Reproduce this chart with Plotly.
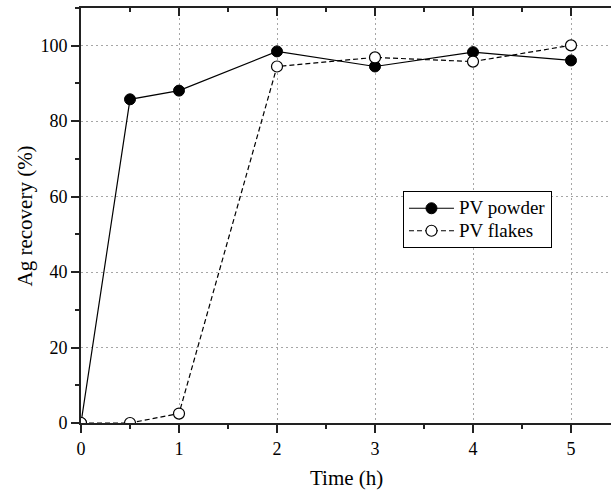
import plotly.graph_objects as go

time_h = [0, 0.5, 1, 2, 3, 4, 5]
pv_powder = [0, 85.8, 88.1, 98.5, 94.5, 98.3, 96.1]
pv_flakes = [0, 0, 2.5, 94.5, 96.9, 95.8, 100.1]
series_names = ["PV powder", "PV flakes"]
x_ticks = [0, 1, 2, 3, 4, 5]
y_ticks = [0, 20, 40, 60, 80, 100]
x_title = "Time (h)"
y_title = "Ag recovery (%)"

FONT = "Liberation Serif, Times New Roman, serif"
AX = "#222222"
GRID = "#a6a6a6"


def legend_label(name):
    return "<span style='font-size:19px'>" + name + "</span>"


fig = go.Figure()
fig.add_trace(go.Scatter(
    x=time_h, y=pv_powder, name=legend_label(series_names[0]), mode="lines+markers",
    line=dict(color="black", width=1.2),
    marker=dict(symbol="circle", size=11, color="black", line=dict(color="black", width=1)),
))
fig.add_trace(go.Scatter(
    x=time_h, y=pv_flakes, name=legend_label(series_names[1]), mode="lines+markers",
    line=dict(color="black", width=1.2, dash="5px,3px"),
    marker=dict(symbol="circle", size=11, color="white", line=dict(color="black", width=1.2)),
))

xr = [0, 530 / 98.0]
fig.update_layout(
    width=611, height=490,
    margin=dict(l=81, r=0, t=8, b=67, autoexpand=False),
    paper_bgcolor="white", plot_bgcolor="white",
    font=dict(family=FONT, color="black", size=18),
    showlegend=True,
    legend=dict(
        x=0.6075, y=0.559, xanchor="left", yanchor="top",
        bgcolor="white", bordercolor="black", borderwidth=1,
        font=dict(family=FONT, size=15, color="black"),
        itemwidth=45, tracegroupgap=0,
    ),
    xaxis=dict(
        range=xr, tickvals=x_ticks, ticktext=[str(v) for v in x_ticks],
        showline=True, linecolor=AX, linewidth=2, automargin=False,
        ticks="outside", ticklen=8, tickwidth=1.5, tickcolor=AX,
        minor=dict(dtick=0.5, tick0=0, ticks="outside", ticklen=4, tickwidth=1.5, tickcolor=AX, showgrid=False),
        showgrid=True, gridcolor=GRID, gridwidth=1, griddash="2px,3px",
        zeroline=False,
        tickfont=dict(family=FONT, size=18),
    ),
    xaxis2=dict(
        overlaying="x", matches="x", side="top", range=xr, automargin=False,
        tickvals=x_ticks, showticklabels=False,
        showline=True, linecolor=AX, linewidth=2,
        ticks="inside", ticklen=8, tickwidth=1.5, tickcolor=AX,
        minor=dict(dtick=0.5, tick0=0, ticks="inside", ticklen=4, tickwidth=1.5, tickcolor=AX, showgrid=False),
        showgrid=False, zeroline=False,
    ),
    yaxis=dict(
        range=[0, 110], tickvals=y_ticks, ticktext=[str(v) for v in y_ticks],
        showline=True, linecolor=AX, linewidth=2, automargin=False,
        ticks="outside", ticklen=8, tickwidth=1.5, tickcolor=AX,
        minor=dict(dtick=10, tick0=0, ticks="outside", ticklen=4, tickwidth=1.5, tickcolor=AX, showgrid=False),
        showgrid=True, gridcolor=GRID, gridwidth=1, griddash="2px,3px",
        zeroline=False,
        tickfont=dict(family=FONT, size=18),
    ),
)
fig.add_annotation(text=x_title, xref="paper", yref="paper", x=0.5, y=-0.1325,
                   xanchor="center", yanchor="middle", showarrow=False,
                   font=dict(family=FONT, size=21, color="black"))
fig.add_annotation(text=y_title, xref="paper", yref="paper", x=-0.1057, y=0.5,
                   xanchor="center", yanchor="middle", showarrow=False, textangle=-90,
                   font=dict(family=FONT, size=21, color="black"))
# invisible helper trace so the top mirror axis is drawn
fig.add_trace(go.Scatter(x=[None], y=[None], xaxis="x2", showlegend=False, hoverinfo="skip"))

# remove the default 8px page margin so the figure sits at the window's corner
fig.write_html("out.html", config={"displayModeBar": False},
               post_script="document.body.style.margin='0px';")
